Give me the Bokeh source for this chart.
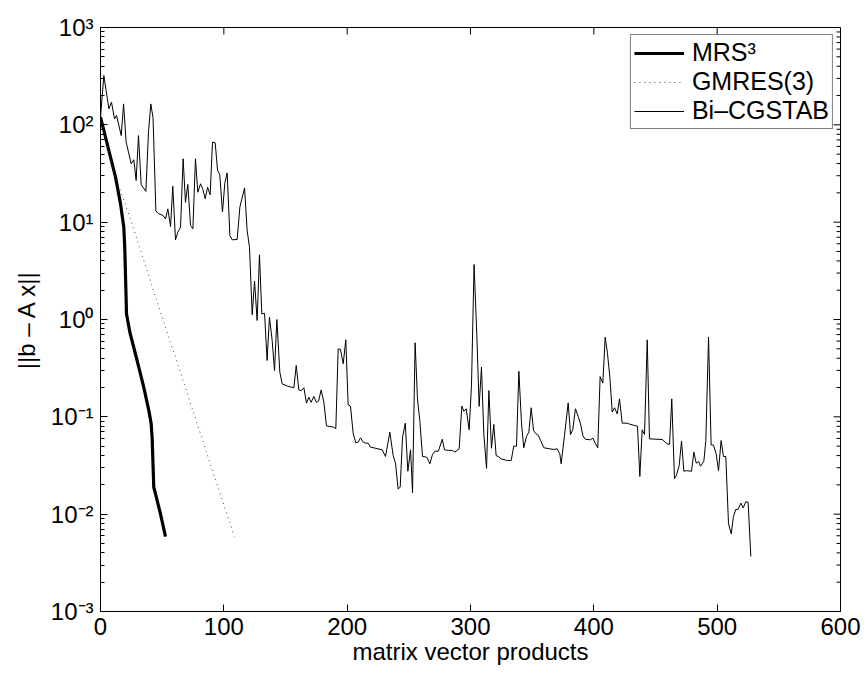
from bokeh.plotting import figure
from bokeh.models import (FixedTicker, Range1d, Legend, LegendItem,
                          CustomJSTickFormatter)
from bokeh.embed import file_html
from bokeh.resources import INLINE

# ---------------- data ----------------
mrs_x = [0, 2.7, 8.1, 12.2, 16.2, 18.9, 19.7, 21.1, 23.8, 29.7, 35.1, 39.2,
         41.1, 41.9, 43.2, 44.6, 48.6, 52.7]
mrs_y = [120, 87.5, 46.5, 29.0, 15.5, 8.87, 5.32, 1.14, 0.74, 0.379, 0.201,
         0.116, 0.0847, 0.0594, 0.0189, 0.0162, 0.0101, 0.00589]

gmres_x = [0, 3, 6, 10.8, 24.3, 46, 70, 90, 108.6]
gmres_y = [120, 85, 58, 32.6, 10.8, 1.51, 0.18, 0.03, 0.0059]

bicg_x = [0, 2.7, 6.8, 8.9, 11.4, 13, 16.8, 18.7, 20.8, 24.9, 27, 28.9, 30.8,
          33, 36.8, 38.9, 40.8, 42.6, 44.9, 47.3, 50.8, 52.7, 54.6, 56.8,
          58.6, 60.8, 62.7, 64.9, 67, 68.9, 70.8, 73, 74.9, 77, 78.9, 81.1,
          82.9, 84.9, 86.8, 88.9, 90.8, 93, 94.9, 96.7, 98.9, 100.8, 102.7,
          104.9, 106.8, 110.8, 113, 116.8, 118.9, 120.8, 123, 124.9, 127,
          128.9, 130.8, 133, 135.1, 137, 139.2, 141.1, 143, 145.4, 147.3,
          151.4, 156.8, 158.7, 160.8, 162.9, 164.9, 167, 168.9, 170.8, 173,
          175, 176.8, 178.9, 181.1, 183.2, 189.2, 190.8, 192.7, 194.6, 196.8,
          198.9, 200.8, 202.7, 204.9, 207, 208.9, 210.8, 213, 214.9, 217,
          218.9, 222, 228.4, 231.1, 234.6, 237.3, 239.2, 241.3, 243, 244.9,
          247.1, 249.2, 251.4, 253, 255.1, 257, 258.9, 261.1, 263.2, 264.9,
          267, 269.2, 271.1, 274, 277.1, 278.9, 282, 285.2, 287.3, 290.8, 293,
          294.6, 296.5, 298.9, 300.8, 302.9, 305.1, 307, 308.9, 310.8, 313,
          314.9, 317, 318.9, 320.8, 322.9, 324.9, 329.7, 333, 335.1, 337.3,
          339.2, 341.4, 343.2, 345.4, 347.3, 349.2, 351.1, 353, 355, 356.8,
          359.5, 364.3, 367.6, 370.3, 372.4, 373.5, 376.2, 379.2, 381.1,
          382.9, 385.1, 387.3, 389.2, 391.1, 393, 397.3, 399.2, 401.1, 403.2,
          405.1, 407.3, 409.2, 411.1, 413, 414.9, 416.8, 419, 420.8, 423,
          427.1, 429, 433, 435.4, 437.3, 439.2, 441.1, 443.3, 445.1, 455.4,
          459.5, 461.4, 463.2, 465.4, 467, 469.2, 471.1, 473, 475.1, 479.2,
          481.1, 483, 485, 486.5, 489.2, 490.8, 493, 495.1, 497, 499.2, 501.1,
          503.2, 505.1, 507, 509.2, 511.4, 513.2, 515.1, 517, 519.2, 521.1,
          523.2, 525.1, 527.3]
bicg_y = [120, 321, 146, 171, 115, 125, 77.6, 164, 66.4, 39.8, 43.8, 26.8,
          77.6, 24.2, 20.7, 83.9, 164, 118, 13.0, 12.2, 11.7, 10.8, 13.7,
          9.02, 23.4, 6.59, 7.89, 8.87, 44.8, 16.0, 24.4, 9.25, 8.55, 44.8,
          20.3, 24.8, 22.0, 17.4, 22.9, 19.1, 66.4, 65.3, 34.0, 30.9, 12.7,
          25.1, 32.1, 7.29, 6.59, 6.64, 14.3, 22.5, 8.20, 5.53, 1.12, 2.48,
          0.977, 4.62, 1.14, 1.16, 0.379, 1.06, 0.608, 0.299, 1.0, 0.288,
          0.218, 0.207, 0.199, 0.337, 0.189, 0.186, 0.199, 0.138, 0.159,
          0.141, 0.162, 0.141, 0.145, 0.189, 0.142, 0.0807, 0.0782, 0.0753,
          0.5, 0.492, 0.351, 0.618, 0.133, 0.129, 0.067, 0.0541, 0.055,
          0.0608, 0.055, 0.0537, 0.0537, 0.0488, 0.0479, 0.0458, 0.0391,
          0.0695, 0.04, 0.0334, 0.0182, 0.0189, 0.0618, 0.0861, 0.0276,
          0.0458, 0.0166, 0.577, 0.153, 0.0916, 0.0391, 0.0389, 0.038, 0.0329,
          0.041, 0.0444, 0.0444, 0.0589, 0.0458, 0.0452, 0.0452, 0.0434,
          0.0469, 0.129, 0.114, 0.121, 0.0736, 0.21, 3.67, 0.713, 0.128,
          0.324, 0.067, 0.0296, 0.186, 0.0476, 0.0834, 0.04, 0.0389, 0.037,
          0.0356, 0.0356, 0.0499, 0.0499, 0.294, 0.0847, 0.0481, 0.0628,
          0.0695, 0.124, 0.0724, 0.067, 0.0646, 0.0571, 0.0481, 0.0469,
          0.0462, 0.0469, 0.0417, 0.0329, 0.0643, 0.139, 0.0658, 0.0736,
          0.121, 0.101, 0.0847, 0.0643, 0.0589, 0.0581, 0.0603, 0.0537,
          0.0481, 0.259, 0.222, 0.658, 0.444, 0.255, 0.112, 0.124, 0.107,
          0.153, 0.0861, 0.0861, 0.0841, 0.0815, 0.0802, 0.0244, 0.0736,
          0.0658, 0.618, 0.0594, 0.0585, 0.0528, 0.0522, 0.153, 0.0231,
          0.0251, 0.0316, 0.0562, 0.0276, 0.028, 0.0276, 0.0434, 0.0334,
          0.0347, 0.0311, 0.035, 0.0571, 0.658, 0.0515, 0.0513, 0.0417, 0.028,
          0.0571, 0.0391, 0.0391, 0.00796, 0.00628, 0.00946, 0.0112, 0.0112,
          0.013, 0.0116, 0.0134, 0.0133, 0.00367]

x_ticks = [0, 100, 200, 300, 400, 500, 600]
y_ticks = [1e-3, 1e-2, 1e-1, 1e0, 1e1, 1e2, 1e3]

series_names = ["MRS³", "GMRES(3)", "Bi–CGSTAB"]
x_label = "matrix vector products"
y_label = "||b – A x||"

FONT = "Liberation Sans"
TICK_SIZE = "24px"
X_MIN, X_MAX, Y_MIN, Y_MAX = 0, 600, 1e-3, 1e3

# ---------------- figure ----------------
p = figure(width=866, height=675, x_range=Range1d(X_MIN, X_MAX),
           y_range=Range1d(Y_MIN, Y_MAX), y_axis_type="log",
           output_backend="svg", toolbar_location=None,
           min_border_left=100, min_border_right=26, min_border_top=27,
           min_border_bottom=64)
p.xgrid.visible = False
p.ygrid.visible = False
p.outline_line_color = "black"
p.outline_line_width = 1
p.background_fill_color = "white"
p.border_fill_color = "white"

minor = [m * 10.0 ** e for e in range(-3, 3) for m in range(2, 10)]
yticker = FixedTicker(ticks=y_ticks, minor_ticks=minor)
xticker = FixedTicker(ticks=x_ticks)

fmt = CustomJSTickFormatter(code="""
const e = Math.round(Math.log10(tick));
const sup = {'-':'\u207b','0':'\u2070','1':'\u00b9','2':'\u00b2','3':'\u00b3'};
return '10' + String(e).split('').map(c => sup[c]).join('');
""")

def style_axis(ax):
    ax.axis_line_color = "black"
    ax.major_tick_line_color = "black"
    ax.minor_tick_line_color = "black"
    ax.major_tick_in = 7
    ax.major_tick_out = 0
    ax.minor_tick_in = 4
    ax.minor_tick_out = 0
    ax.major_label_text_font = FONT
    ax.major_label_text_color = "black"
    ax.major_label_text_font_size = TICK_SIZE
    ax.axis_label_text_font = FONT
    ax.axis_label_text_font_style = "normal"
    ax.axis_label_text_color = "black"
    ax.axis_label_text_font_size = TICK_SIZE

xa = p.xaxis[0]
xa.ticker = xticker
style_axis(xa)
xa.minor_tick_line_color = None
xa.axis_label = x_label
xa.major_label_standoff = 6
xa.axis_label_standoff = 0

ya = p.yaxis[0]
ya.ticker = yticker
ya.formatter = fmt
style_axis(ya)
ya.axis_label = y_label
ya.major_label_standoff = 7
ya.axis_label_standoff = 8

# mirrored inward ticks on the top and right edges (half-clipped dash markers)
top_x = [t for t in x_ticks[1:-1]]
p.scatter(top_x, [Y_MAX] * len(top_x), marker="dash", size=14, angle=1.5708,
          line_color="black", line_width=1)
p.scatter([X_MAX] * len(y_ticks), y_ticks, marker="dash", size=14,
          line_color="black", line_width=1)
p.scatter([X_MAX] * len(minor), minor, marker="dash", size=8,
          line_color="black", line_width=1)

# ---------------- lines ----------------
r_mrs = p.line(mrs_x, mrs_y, line_color="black", line_width=3.2)
r_gm = p.line(gmres_x, gmres_y, line_color="#444444", line_width=1,
              line_dash="1 4")
r_bi = p.line(bicg_x, bicg_y, line_color="black", line_width=1)

legend = Legend(items=[LegendItem(label=series_names[0], renderers=[r_mrs]),
                       LegendItem(label=series_names[1], renderers=[r_gm]),
                       LegendItem(label=series_names[2], renderers=[r_bi])],
                location="top_right")
legend.border_line_color = "black"
legend.border_line_width = 1
legend.background_fill_color = "white"
legend.background_fill_alpha = 1
legend.label_text_font = FONT
legend.label_text_font_size = "25px"
legend.label_text_line_height = 0.8
legend.label_text_color = "black"
legend.glyph_width = 50
legend.glyph_height = 20
legend.label_height = 20
legend.spacing = 0
legend.padding = 3
legend.margin = 7
legend.label_standoff = 8
p.add_layout(legend)

open("out.html", "w").write(file_html(p, INLINE))
